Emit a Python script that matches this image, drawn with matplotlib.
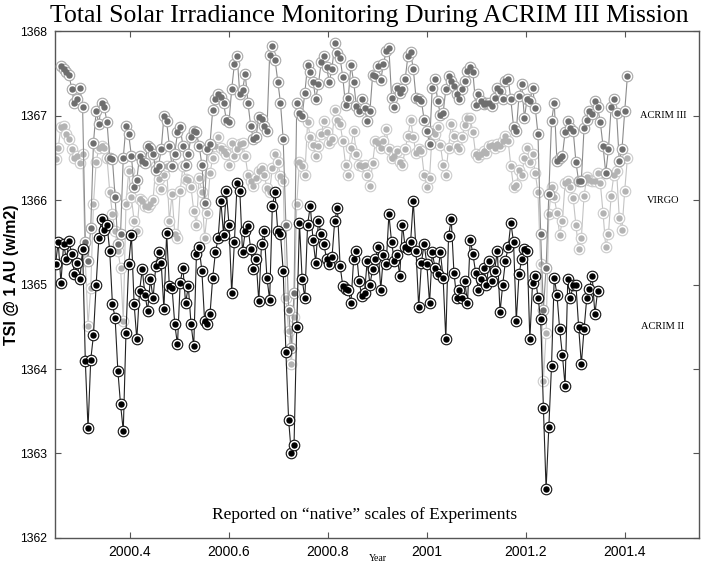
import numpy as np
import matplotlib
matplotlib.use("Agg")
import matplotlib.pyplot as plt

# daily TSI samples, one value every 2 days starting at each series' first day
start_year = 2000.25
step_days = 2

virgo_start = 0
virgo = [
    1366.48, 1366.62, 1366.86, 1366.88, 1366.78, 1366.72, 1366.60, 1366.50, 1366.52, 1366.44,
    1366.55, 1365.28, 1364.51, 1364.96, 1365.95, 1366.45, 1366.62, 1366.64, 1366.62, 1366.50,
    1366.10, 1365.83, 1365.63, 1365.40, 1365.20, 1364.57, 1365.95, 1366.34, 1366.03, 1365.75,
    1365.63, 1366.01, 1365.99, 1365.93, 1365.92, 1365.95, 1366.00, 1366.40, 1366.25, 1366.13,
    1366.30, 1366.40, 1365.75, 1366.07, 1365.60, 1365.55, 1366.11, 1366.40, 1366.25, 1366.24,
    1366.15, 1365.87, 1365.71, 1366.26, 1366.10, 1365.55, 1365.85, 1366.32, 1366.50, 1366.64,
    1366.75, 1366.62, 1366.58, 1366.55, 1366.42, 1366.68, 1366.52, 1366.60, 1366.66, 1366.68,
    1366.52, 1366.30, 1366.23, 1366.17, 1366.26, 1366.34, 1366.38, 1366.30, 1366.14, 1366.10,
    1366.38, 1366.54, 1366.45, 1366.28, 1366.22, 1364.84, 1364.45, 1364.06, 1364.61, 1365.95,
    1366.45, 1366.40, 1366.30, 1366.92, 1366.75, 1366.65, 1366.52, 1366.64, 1366.78, 1366.93,
    1366.80, 1366.68, 1366.72, 1367.07, 1366.95, 1366.90, 1366.70, 1366.42, 1366.30, 1366.62,
    1366.82, 1366.55, 1366.42, 1366.40, 1366.42, 1366.30, 1366.17, 1366.44, 1366.70, 1366.68,
    1366.62, 1366.70, 1366.84, 1366.60, 1366.50, 1366.52, 1366.58, 1366.45, 1366.42, 1366.60,
    1366.76, 1366.95, 1366.74, 1366.56, 1366.60, 1366.58, 1366.30, 1366.15, 1366.26, 1366.82,
    1366.78, 1366.86, 1366.65, 1366.42, 1366.30, 1366.62, 1366.90, 1366.76, 1366.64, 1366.60,
    1366.74, 1366.89, 1366.97, 1366.97, 1366.80, 1366.54, 1366.51, 1366.55, 1366.58, 1366.56,
    1366.64, 1366.65, 1366.62, 1366.66, 1366.64, 1366.70, 1366.76, 1366.70, 1366.40, 1366.15,
    1366.18, 1366.36, 1366.30, 1366.50, 1366.62, 1366.45, 1366.55, 1366.32, 1366.09, 1365.24,
    1363.86, 1364.43, 1365.83, 1366.15, 1366.03, 1365.85, 1365.59, 1365.75, 1366.20, 1366.22,
    1366.15, 1366.02, 1365.70, 1365.42, 1365.55, 1366.05, 1366.27, 1366.24, 1366.22, 1366.22,
    1366.32, 1366.20, 1365.85, 1365.44, 1365.60, 1366.05, 1366.30, 1366.34, 1365.79, 1365.65,
    1366.11, 1366.50,
]

acrim3_start = 4
acrim3 = [
    1367.59, 1367.55, 1367.52, 1367.48, 1367.31, 1367.15, 1367.20, 1367.33, 1367.10,
    1365.50, 1365.28, 1365.67, 1366.68, 1367.05, 1366.90, 1367.15, 1367.10, 1366.92, 1366.50,
    1366.48, 1366.03, 1365.48, 1365.60, 1366.50, 1366.88, 1366.78, 1366.52, 1366.15, 1366.24,
    1366.52, 1366.46, 1366.44, 1366.64, 1366.62, 1366.55, 1366.35, 1366.40, 1366.60, 1366.99,
    1366.93, 1366.64, 1366.40, 1366.55, 1366.80, 1366.86, 1366.64, 1366.42, 1366.55, 1366.75,
    1366.82, 1366.80, 1366.64, 1366.42, 1365.97, 1366.60, 1366.66, 1367.07, 1367.20, 1367.25,
    1367.22, 1367.15, 1366.95, 1366.92, 1367.31, 1367.61, 1367.70, 1367.25, 1367.30, 1367.49,
    1367.15, 1366.88, 1366.72, 1366.75, 1366.98, 1366.96, 1366.88, 1366.82, 1367.72, 1367.82,
    1367.66, 1367.40, 1367.15, 1366.72, 1365.70, 1364.70, 1364.25, 1364.90, 1367.15, 1367.03,
    1367.00, 1367.27, 1367.60, 1367.52, 1367.40, 1367.20, 1367.37, 1367.63, 1367.70, 1367.57,
    1367.40, 1367.55, 1367.86, 1367.74, 1367.68, 1367.45, 1367.12, 1367.21, 1367.60, 1367.40,
    1367.11, 1367.05, 1367.20, 1367.09, 1366.94, 1367.05, 1367.48, 1367.47, 1367.59, 1367.42,
    1367.61, 1367.76, 1367.80, 1367.21, 1367.10, 1367.33, 1367.27, 1367.31, 1367.43, 1367.70,
    1367.75, 1367.55, 1367.21, 1367.19, 1367.17, 1366.95, 1366.82, 1366.66, 1367.33, 1367.43,
    1367.17, 1367.01, 1367.03, 1367.31, 1367.47, 1367.41, 1367.35, 1367.25, 1367.20, 1367.31,
    1367.41, 1367.53, 1367.57, 1367.51, 1367.13, 1367.25, 1367.17, 1367.14, 1367.15, 1367.15,
    1367.11, 1367.21, 1367.33, 1367.29, 1367.19, 1367.41, 1367.43, 1367.19, 1366.86, 1366.82,
    1367.23, 1367.37, 1366.97, 1367.20, 1367.17, 1367.33, 1367.09, 1366.78, 1365.60, 1364.70,
    1365.20, 1366.07, 1366.93, 1367.15, 1366.46, 1366.50, 1366.52, 1366.80, 1366.93, 1366.85,
    1366.82, 1366.45, 1366.22, 1366.23, 1366.85, 1366.95, 1367.05, 1367.02, 1367.17, 1367.10,
    1366.92, 1366.64, 1366.32, 1366.60, 1367.10, 1367.19, 1367.03, 1366.46, 1366.60, 1367.05,
    1367.47,
]

acrim2_start = 0
acrim2 = [
    1365.24, 1365.50, 1365.02, 1365.48, 1365.30, 1365.51, 1365.36, 1365.12, 1365.25, 1365.06,
    1365.42, 1364.09, 1363.30, 1364.11, 1364.40, 1365.00, 1365.55, 1365.77, 1365.65, 1365.71,
    1365.40, 1364.77, 1364.60, 1363.98, 1363.58, 1363.27, 1364.43, 1365.24, 1365.59, 1364.77,
    1364.35, 1364.92, 1365.18, 1364.88, 1364.69, 1365.06, 1364.84, 1365.22, 1365.38, 1365.25,
    1364.71, 1365.61, 1364.98, 1364.96, 1364.53, 1364.29, 1365.02, 1365.20, 1364.78, 1364.98,
    1364.53, 1364.27, 1365.36, 1365.44, 1365.16, 1364.57, 1364.53, 1364.65, 1365.08, 1365.38,
    1365.55, 1365.99, 1365.59, 1366.11, 1365.71, 1364.90, 1365.50, 1366.20, 1366.11, 1365.38,
    1365.63, 1365.69, 1365.42, 1365.18, 1365.30, 1364.80, 1365.48, 1365.63, 1365.08, 1364.82,
    1365.93, 1366.09, 1365.63, 1365.60, 1365.16, 1364.20, 1363.40, 1363.00, 1363.10, 1364.50,
    1365.73, 1365.06, 1364.84, 1365.71, 1365.93, 1365.53, 1365.26, 1365.75, 1365.60, 1365.48,
    1365.30, 1365.24, 1365.32, 1365.75, 1365.91, 1365.22, 1364.98, 1364.95, 1364.94, 1364.78,
    1365.30, 1365.40, 1365.04, 1364.86, 1364.90, 1365.28, 1365.00, 1365.18, 1365.30, 1365.44,
    1364.94, 1365.35, 1365.24, 1365.83, 1365.50, 1365.28, 1365.35, 1365.10, 1365.71, 1365.44,
    1365.42, 1365.50, 1365.99, 1365.40, 1364.73, 1365.26, 1365.48, 1365.24, 1364.78, 1365.38,
    1365.20, 1365.12, 1365.38, 1365.08, 1364.35, 1365.57, 1365.77, 1365.14, 1364.84, 1364.94,
    1364.84, 1365.04, 1364.78, 1365.53, 1365.36, 1365.14, 1364.94, 1365.06, 1365.20, 1365.00,
    1365.28, 1365.04, 1365.16, 1365.40, 1364.67, 1365.00, 1365.28, 1365.44, 1365.73, 1365.50,
    1364.57, 1365.12, 1365.30, 1365.42, 1365.40, 1364.35, 1365.02, 1365.10, 1364.84, 1364.59,
    1363.54, 1362.58, 1363.31, 1364.04, 1365.08, 1364.88, 1364.47, 1364.17, 1363.80, 1365.06,
    1364.84, 1365.00, 1365.00, 1364.50, 1364.06, 1364.47, 1364.84, 1364.95, 1365.10, 1364.65,
    1364.92,
]

x_ticks = [2000.4, 2000.6, 2000.8, 2001.0, 2001.2, 2001.4]
x_tick_labels = ["2000.4", "2000.6", "2000.8", "2001", "2001.2", "2001.4"]
y_ticks = [1362, 1363, 1364, 1365, 1366, 1367, 1368]
series_labels = ["ACRIM III", "VIRGO", "ACRIM II"]
label_levels = [1367.0, 1366.0, 1364.5]


def to_years(start_day, values):
    days = start_day + step_days * np.arange(len(values))
    return start_year + days / 365.25


def draw_series(ax, start_day, values, line_c, ring_c, dot_c, z):
    x = to_years(start_day, values)
    ax.plot(x, values, "-", color=line_c, lw=0.8, zorder=z)
    ax.plot(x, values, "o", ms=7.6, mfc="white", mec=ring_c, mew=0.8,
            ls="none", zorder=z + 0.1)
    ax.plot(x, values, "o", ms=3.6, color=dot_c, ls="none", zorder=z + 0.2)


fig = plt.figure(figsize=(7.08, 5.65), dpi=100)
ax = fig.add_axes([0.0777, 0.0478, 0.9096, 0.8973])

draw_series(ax, virgo_start, virgo, "#c4c4c4", "#cbcbcb", "#b3b3b3", 2)
draw_series(ax, acrim3_start, acrim3, "#8c8c8c", "#a8a8a8", "#6e6e6e", 3)
draw_series(ax, acrim2_start, acrim2, "#222222", "#111111", "#000000", 4)

ax.set_xlim(2000.249, 2001.55)
ax.set_ylim(1362, 1368)
ax.set_xticks(x_ticks)
ax.set_xticklabels(x_tick_labels)
ax.set_yticks(y_ticks)
ax.tick_params(direction="in", length=4.5, width=0.8, color="#555555",
               top=True, right=True)
ax.tick_params(axis="x", labelsize=10, pad=5)
ax.tick_params(axis="y", labelsize=8.8, pad=6)
for lab in ax.get_xticklabels() + ax.get_yticklabels():
    lab.set_fontfamily("Liberation Sans")
for sp in ax.spines.values():
    sp.set_color("#555555")
    sp.set_linewidth(1.0)

for name, lvl in zip(series_labels, label_levels):
    ax.text(2001.477, lvl, name, ha="center", va="center", fontsize=7.5,
            family="Liberation Serif")

ax.text(0.48, 0.045, "Reported on \u201cnative\u201d scales of Experiments",
        transform=ax.transAxes, ha="center", va="center", fontsize=12.5,
        family="Liberation Serif")

fig.text(0.522, 0.972, "Total Solar Irradiance Monitoring During ACRIM III Mission",
         ha="center", va="center", fontsize=18.5, family="Liberation Serif")
# the y label sits over the tick labels, as in the original figure
fig.text(0.0165, 0.513, "TSI @ 1 AU (w/m2)", rotation=90, ha="center", va="center",
         fontsize=11.5, fontweight="bold", family="Liberation Sans")
fig.text(0.533, 0.011, "Year", ha="center", va="center", fontsize=7,
         family="Liberation Serif")

fig.savefig("out.png", dpi=100)
